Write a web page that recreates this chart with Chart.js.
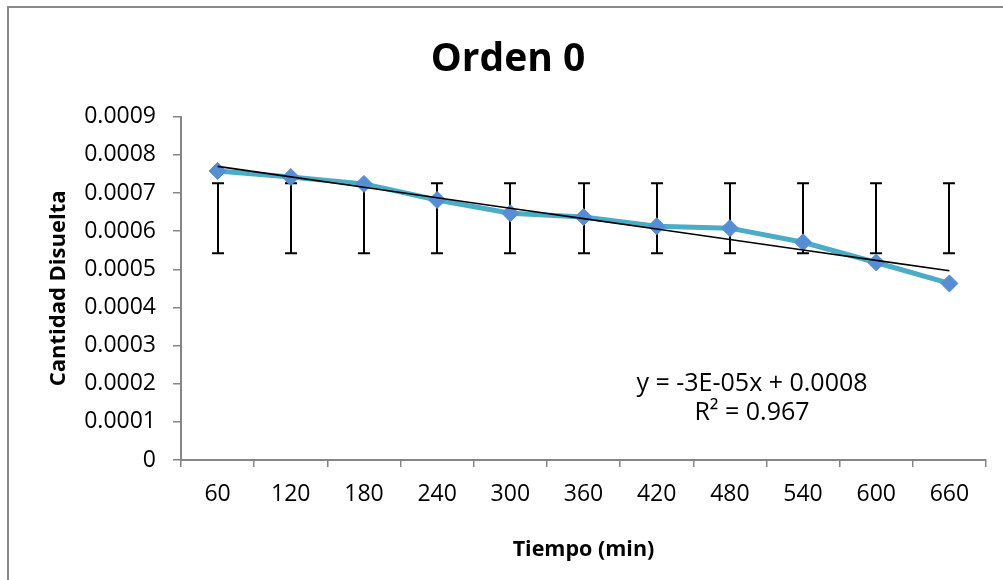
<!DOCTYPE html>
<html>
<head>
<meta charset="utf-8">
<script src="https://cdn.jsdelivr.net/npm/chart.js@4.4.0/dist/chart.umd.min.js"></script>
<style>
  html, body { margin: 0; padding: 0; background: #fff; }
  #wrap { width: 1003px; height: 580px; }
</style>
</head>
<body>
<div id="wrap"><canvas id="chart-orden"></canvas></div>
<script>
// data
const tiempos = ['60', '120', '180', '240', '300', '360', '420', '480', '540', '600', '660'];
const cantidad = [0.000758, 0.000742, 0.000724, 0.000682, 0.000647, 0.000637, 0.000613, 0.000608, 0.000571, 0.000518, 0.000463];
const errLow = [0.000542, 0.000542, 0.000542, 0.000542, 0.000542, 0.000542, 0.000542, 0.000542, 0.000542, 0.000542, 0.000542];
const errHigh = [0.000726, 0.000726, 0.000726, 0.000726, 0.000726, 0.000726, 0.000726, 0.000726, 0.000726, 0.000726, 0.000726];
const yTicks = [0, 0.0001, 0.0002, 0.0003, 0.0004, 0.0005, 0.0006, 0.0007, 0.0008, 0.0009];
const trendText = ['y = -3E-05x + 0.0008', 'R\u00b2 = 0.967'];

// linear trend (x = 1..n, like excel)
const n = cantidad.length;
let sx = 0, sy = 0, sxy = 0, sxx = 0;
cantidad.forEach((v, i) => {
  const x = i + 1;
  sx += x; sy += v; sxy += x * v; sxx += x * x;
});
const slope = (n * sxy - sx * sy) / (n * sxx - sx * sx);
const inter = (sy - slope * sx) / n;
const trend = cantidad.map((v, i) => inter + slope * (i + 1));

const axisGray = '#868686';
const fontMain = "'Open Sans', 'Noto Sans', sans-serif";

const extras = {
  id: 'extras',
  beforeDraw(chart) {
    const ctx = chart.ctx;
    ctx.save();
    ctx.fillStyle = '#fff';
    ctx.fillRect(0, 0, chart.width, chart.height);
    ctx.strokeStyle = '#898989';
    ctx.lineWidth = 2;
    ctx.strokeRect(8, 7, 1100, 700);
    ctx.restore();
  },
  beforeDatasetsDraw(chart) {
    // error bars
    const ctx = chart.ctx;
    const xs = chart.scales.x;
    const ys = chart.scales.y;
    ctx.save();
    ctx.strokeStyle = '#000';
    ctx.lineWidth = 2;
    for (let i = 0; i < tiempos.length; i++) {
      const px = Math.round(xs.getPixelForValue(i));
      const top = ys.getPixelForValue(errHigh[i]);
      const bot = ys.getPixelForValue(errLow[i]);
      ctx.beginPath();
      ctx.moveTo(px, top); ctx.lineTo(px, bot);
      ctx.moveTo(px - 6, top); ctx.lineTo(px + 6, top);
      ctx.moveTo(px - 6, bot); ctx.lineTo(px + 6, bot);
      ctx.stroke();
    }
    ctx.restore();
  },
  afterDraw(chart) {
    const ctx = chart.ctx;
    ctx.save();
    ctx.fillStyle = '#000';
    ctx.font = "25px " + fontMain;
    ctx.textAlign = 'center';
    ctx.textBaseline = 'middle';
    ctx.fillText(trendText[0], 752, 384);
    ctx.fillText(trendText[1], 752, 413);
    ctx.restore();
  }
};

new Chart(document.getElementById('chart-orden'), {
  type: 'line',
  data: {
    labels: tiempos,
    datasets: [{
      label: 'Lineal',
      data: trend,
      borderColor: '#000',
      borderWidth: 1.6,
      pointRadius: 0,
      tension: 0,
      order: 0
    }, {
      label: 'Cantidad Disuelta',
      data: cantidad,
      borderColor: '#4BACC6',
      borderWidth: 5,
      pointStyle: 'rectRot',
      pointRadius: 8.5,
      pointBackgroundColor: '#558ED5',
      pointBorderColor: '#558ED5',
      pointBorderWidth: 1,
      tension: 0,
      order: 1
    }]
  },
  options: {
    responsive: true,
    maintainAspectRatio: false,
    animation: false,
    layout: { padding: { left: 30, right: 17, top: 0, bottom: 0 } },
    plugins: {
      legend: { display: false },
      tooltip: { enabled: false },
      title: {
        display: true,
        text: 'Orden 0',
        color: '#000',
        font: { family: fontMain, size: 39, weight: 'bold' },
        padding: { top: 36, bottom: 34 }
      }
    },
    scales: {
      x: {
        offset: true,
        grid: { offset: true, drawOnChartArea: false, tickLength: 7, color: axisGray, lineWidth: 1.5 },
        border: { color: axisGray, width: 2 },
        ticks: { color: '#000', padding: 14, font: { family: fontMain, size: 23 } },
        title: {
          display: true,
          text: 'Tiempo (min)',
          color: '#000',
          font: { family: fontMain, size: 21.5, weight: 'bold' },
          padding: { top: 10, bottom: 17 }
        },
        afterFit(scale) { scale.height = 120; }
      },
      y: {
        min: 0,
        max: 0.0009,
        afterBuildTicks(scale) { scale.ticks = yTicks.map(v => ({ value: v })); },
        grid: { drawOnChartArea: false, tickLength: 8, color: axisGray, lineWidth: 1.5 },
        border: { color: axisGray, width: 2 },
        ticks: {
          color: '#000',
          padding: 17,
          font: { family: fontMain, size: 23 },
          callback: v => (v === 0 ? '0' : v.toFixed(4))
        },
        title: {
          display: true,
          text: 'Cantidad Disuelta',
          color: '#000',
          font: { family: fontMain, size: 22, weight: 'bold' },
          padding: { top: 16, bottom: 4 }
        },
        afterFit(scale) { scale.width = 151; }
      }
    }
  },
  plugins: [extras]
});
</script>
</body>
</html>
